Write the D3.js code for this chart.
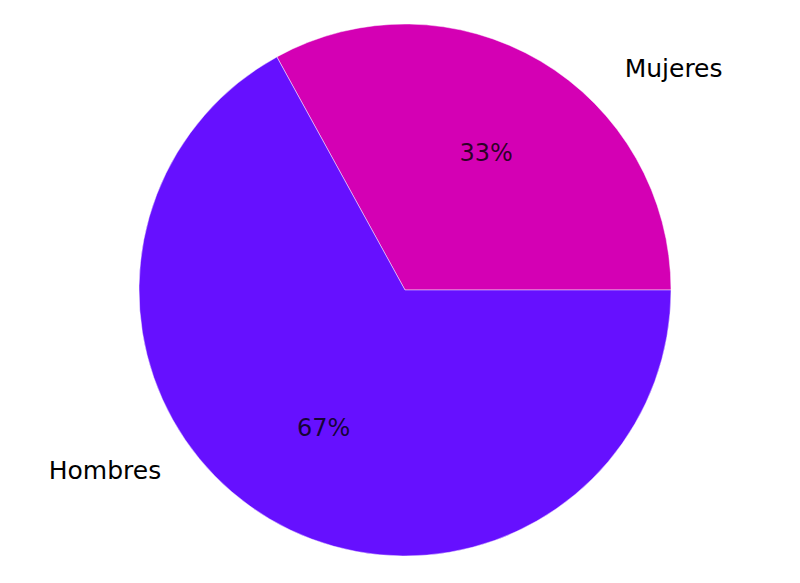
<!DOCTYPE html>
<html>
<head>
<meta charset="utf-8">
<script src="https://cdn.jsdelivr.net/npm/d3@7"></script>
<style>
  body { margin: 0; background: #fff; }
  text { font-family: "DejaVu Sans", sans-serif; }
</style>
</head>
<body>
<svg id="chart" width="800" height="583"></svg>
<script>
var categories = ["Mujeres", "Hombres"]
var values = [33, 67]
var colors = ["#d400b4", "#6610ff"]

var width = 800, height = 583
var cx = 405, cy = 290
var radius = 266

var svg = d3.select("#chart")
var g = svg.append("g").attr("transform", "translate(" + cx + "," + cy + ")")

var data = categories.map(function(c, i){ return {name: c, value: values[i], color: colors[i]} })
var total = d3.sum(values)

// counter-clockwise from 3 o'clock, like matplotlib
var pie = d3.pie()
    .sort(null)
    .value(function(d){ return d.value })
    .startAngle(Math.PI / 2)
    .endAngle(Math.PI / 2 - 2 * Math.PI)

var arcs = pie(data)

var arc = d3.arc().innerRadius(0).outerRadius(radius)

g.selectAll("path")
    .data(arcs)
    .enter()
    .append("path")
    .attr("d", arc)
    .attr("fill", function(d){ return d.data.color })
    .attr("stroke", "rgba(255,255,255,0.45)")
    .attr("stroke-width", 1)

// percentages at 0.6 r
var pctArc = d3.arc().innerRadius(radius * 0.6).outerRadius(radius * 0.6)
g.selectAll("text.pct")
    .data(arcs)
    .enter()
    .append("text")
    .attr("class", "pct")
    .attr("transform", function(d){ return "translate(" + pctArc.centroid(d) + ")" })
    .attr("text-anchor", "middle")
    .attr("dy", "0.35em")
    .attr("font-size", "24px")
    .attr("fill", "#000")
    .attr("fill-opacity", 0.8)
    .text(function(d){ return Math.round(d.data.value / total * 100) + "%" })

// category labels, nudged off the slice middle
var labelShift = [-0.25, -0.4]
var labelDist = [1.18, 1.14]
g.selectAll("text.lbl")
    .data(arcs)
    .enter()
    .append("text")
    .attr("class", "lbl")
    .attr("x", function(d, i){
        var a = (d.startAngle + d.endAngle) / 2 - labelShift[i]
        return Math.sin(a) * radius * labelDist[i] + (i == 0 ? -2 : 0)
    })
    .attr("y", function(d, i){
        var a = (d.startAngle + d.endAngle) / 2 - labelShift[i]
        return -Math.cos(a) * radius * labelDist[i]
    })
    .attr("text-anchor", function(d, i){ return i == 0 ? "start" : "end" })
    .attr("dy", "0.35em")
    .attr("font-size", "25px")
    .attr("fill", "#000")
    .text(function(d){ return d.data.name })
</script>
</body>
</html>
